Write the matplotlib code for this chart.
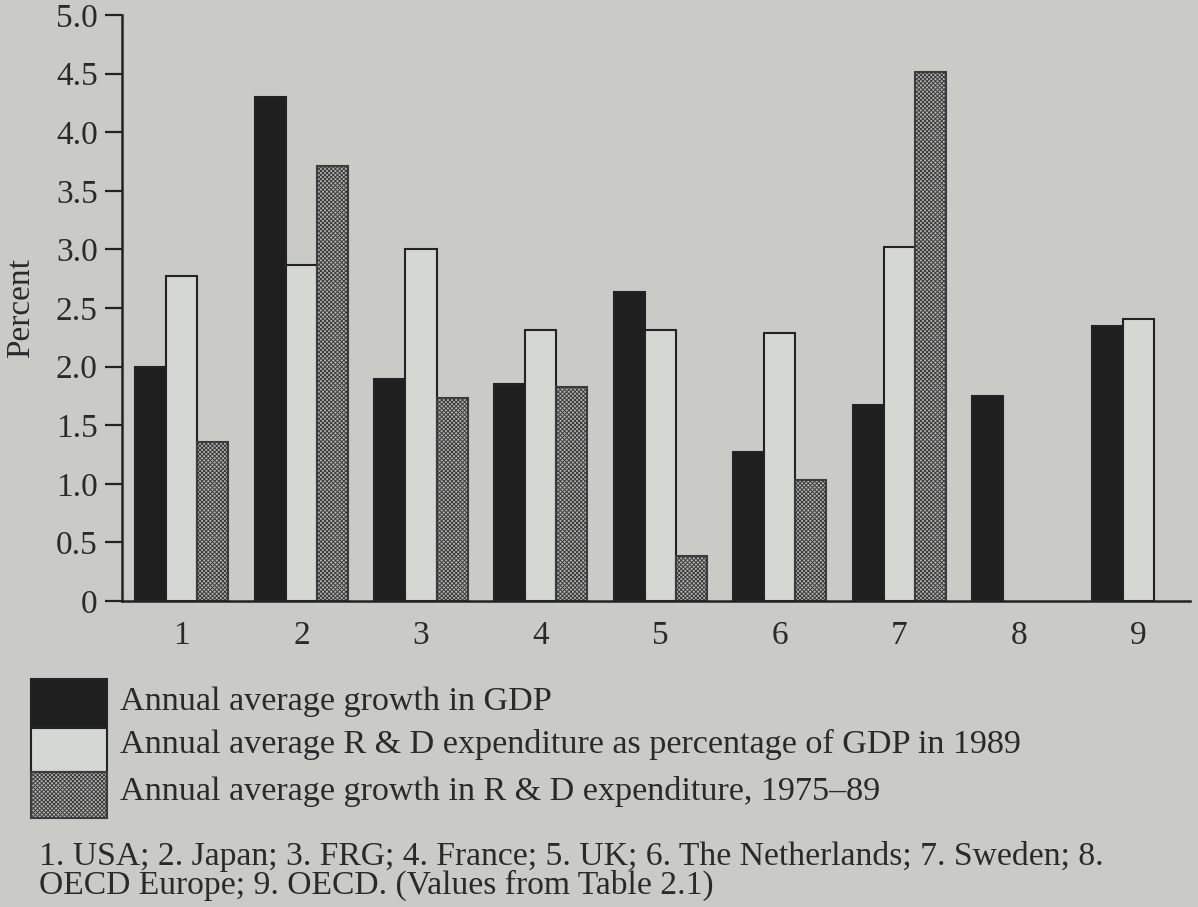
import numpy as np
import matplotlib
matplotlib.use('Agg')
from matplotlib import pyplot as plt
from matplotlib.patches import Rectangle

# Values (percent), countries 1..9
countries = ['1', '2', '3', '4', '5', '6', '7', '8', '9']
gdp_growth = [2.00, 4.30, 1.89, 1.85, 2.64, 1.27, 1.67, 1.75, 2.35]
rd_share_1989 = [2.77, 2.87, 3.00, 2.31, 2.31, 2.29, 3.02, None, 2.41]
rd_growth = [1.36, 3.71, 1.73, 1.83, 0.38, 1.03, 4.51, None, None]

series_labels = ['Annual average growth in GDP',
                 'Annual average R & D expenditure as percentage of GDP in 1989',
                 'Annual average growth in R & D expenditure, 1975\u201389']
y_ticks = [0, 0.5, 1.0, 1.5, 2.0, 2.5, 3.0, 3.5, 4.0, 4.5, 5.0]
y_ticklabels = ['0', '0.5', '1.0', '1.5', '2.0', '2.5', '3.0', '3.5', '4.0', '4.5', '5.0']
footnote_lines = ['1. USA; 2. Japan; 3. FRG; 4. France; 5. UK; 6. The Netherlands; 7. Sweden; 8.',
                  'OECD Europe; 9. OECD. (Values from Table 2.1)']

BG = '#cacbc6'
INK = '#232323'
TXT = '#2a2a2a'
styles = [dict(facecolor='#1f1f1f', edgecolor=INK, hatch=None),
          dict(facecolor='#d5d7d2', edgecolor=INK, hatch=None),
          dict(facecolor='#b4b5b1', edgecolor='#3c3c3c', hatch='xxxxxxxx')]

plt.rcParams['font.family'] = ['Liberation Serif', 'DejaVu Serif']
plt.rcParams['hatch.linewidth'] = 0.7
FS = 24

W, H = 1198, 907
fig = plt.figure(figsize=(W / 100, H / 100), dpi=100, facecolor=BG)
ax = fig.add_axes([122 / W, 1 - 601 / H, (1190 - 122) / W, (601 - 15) / H])
ax.set_facecolor(BG)

x = np.arange(1, len(countries) + 1)
width = 0.26
offsets = [-width, 0.0, width]
for values, off, st in zip([gdp_growth, rd_share_1989, rd_growth], offsets, styles):
    # skip missing values (OECD Europe / OECD have no data for some series)
    xs = [xi + off for xi, v in zip(x, values) if v is not None]
    hs = [v for v in values if v is not None]
    ax.bar(xs, hs, width=width, facecolor=st['facecolor'], edgecolor=st['edgecolor'],
           hatch=st['hatch'], linewidth=1.5, zorder=2)

ax.set_xlim(0.5, 9.43)
ax.set_ylim(0, 5.0)
ax.set_xticks(x)
ax.set_xticklabels(countries, fontsize=FS, color=TXT)
ax.set_yticks(y_ticks)
ax.set_yticklabels(y_ticklabels, fontsize=FS, color=TXT)
ax.tick_params(axis='x', length=0, pad=14)
ax.tick_params(axis='y', direction='out', length=12.5, width=1.6, color=INK, pad=5)
for side in ['top', 'right']:
    ax.spines[side].set_visible(False)
for side in ['left', 'bottom']:
    ax.spines[side].set_linewidth(1.8)
    ax.spines[side].set_color(INK)

ax.set_ylabel('Percent', fontsize=FS, color=TXT)
ax.yaxis.set_label_coords((36 - 122) / (1190 - 122), 0.5)

# legend drawn as three stacked swatches with text to the right
rows = [(679, 728), (728, 772), (772, 818)]
baselines = [710, 753, 800]
for (top, bot), base, st, label in zip(rows, baselines, styles, series_labels):
    fig.patches.append(Rectangle((31 / W, 1 - bot / H), 76 / W, (bot - top) / H,
                                 transform=fig.transFigure, facecolor=st['facecolor'],
                                 edgecolor=st['edgecolor'], hatch=st['hatch'], linewidth=1.5))
    fig.text(120 / W, 1 - base / H, label, fontsize=24.6, color=TXT, va='baseline')

# two-line caption under the legend
for line, base in zip(footnote_lines, [865, 894]):
    fig.text(39 / W, 1 - base / H, line, fontsize=24.2, color=TXT, va='baseline')

fig.savefig('out.png', dpi=100, facecolor=BG)
